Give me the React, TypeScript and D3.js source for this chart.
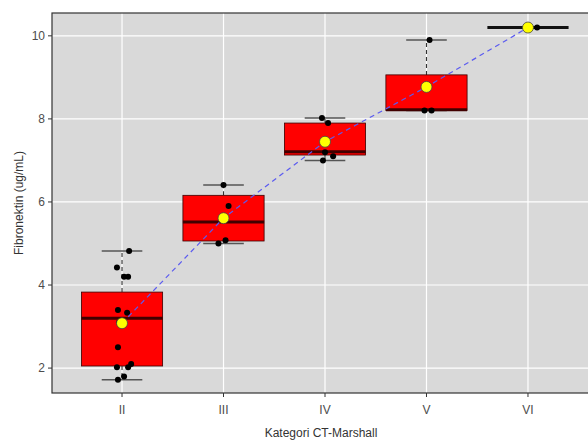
import React from 'react'
import * as d3 from 'd3'

// Kategori CT-Marshall
const categories = ['II', 'III', 'IV', 'V', 'VI']

// box statistics
const whiskerLow = [1.72, 5.0, 7.0, 8.2, 10.2]
const q1 = [2.05, 5.06, 7.13, 8.2, 10.2]
const median = [3.2, 5.52, 7.21, 8.22, 10.2]
const q3 = [3.83, 6.16, 7.9, 9.06, 10.2]
const whiskerHigh = [4.82, 6.41, 8.02, 9.9, 10.2]
const means = [3.08, 5.61, 7.45, 8.77, 10.2]

// jittered observations
const pointCat = ['II', 'II', 'II', 'II', 'II', 'II', 'II', 'II', 'II', 'II', 'II', 'II', 'II',
  'III', 'III', 'III', 'III', 'IV', 'IV', 'IV', 'IV', 'IV', 'V', 'V', 'V', 'VI', 'VI']
const pointVal = [4.82, 4.42, 4.2, 4.2, 3.4, 3.33, 3.1, 2.5, 2.02, 2.02, 2.1, 1.8, 1.72,
  6.41, 5.9, 5.0, 5.08, 8.02, 7.9, 7.2, 7.1, 7.0, 9.9, 8.2, 8.2, 10.2, 10.2]
const pointJitter = [0.07, -0.05, 0.02, 0.06, -0.04, 0.05, -0.03, -0.04, -0.05, 0.06, 0.09, 0.02, -0.04,
  0.0, 0.05, -0.05, 0.02, -0.03, 0.03, 0.0, 0.08, -0.02, 0.03, 0.05, -0.02, 0.09, 0.0]

const yTicks = [2, 4, 6, 8, 10]

const W = 588
const H = 440
const panel = { left: 52, top: 13, right: 598, bottom: 393 }

export default function App() {
  const x = d3
    .scalePoint<string>()
    .domain(categories)
    .range([panel.left, panel.right])
    .padding(0.69)
  const y = d3.scaleLinear().domain([1.4, 10.55]).range([panel.bottom, panel.top])
  const step = x.step()
  const boxW = step * 0.8
  const capW = boxW / 2

  const meanLine = d3
    .line<number>()
    .x((d, i) => x(categories[i]) as number)
    .y((d) => y(d))(means) as string

  const font = '"Liberation Sans", Arial, sans-serif'

  return (
    <svg
      width={W}
      height={H}
      style={{ position: 'absolute', left: 0, top: 0, background: '#fff' }}
      fontFamily={font}
    >
      <defs>
        <clipPath id="panelClip">
          <rect x={panel.left} y={panel.top} width={panel.right - panel.left} height={panel.bottom - panel.top} />
        </clipPath>
      </defs>
      <rect
        x={panel.left}
        y={panel.top}
        width={panel.right - panel.left}
        height={panel.bottom - panel.top}
        fill="#d9d9d9"
      />
      <g clipPath="url(#panelClip)">
        {yTicks.map((t) => (
          <line key={'gy' + t} x1={panel.left} x2={panel.right} y1={y(t)} y2={y(t)} stroke="#fff" strokeWidth={1.2} />
        ))}
        {categories.map((c) => (
          <line key={'gx' + c} x1={x(c)} x2={x(c)} y1={panel.top} y2={panel.bottom} stroke="#fff" strokeWidth={1.2} />
        ))}

        {categories.map((c, i) => {
          const cx = x(c) as number
          return (
            <g key={'box' + c}>
              <line x1={cx} x2={cx} y1={y(q3[i])} y2={y(whiskerHigh[i])} stroke="#333" strokeWidth={1.1} strokeDasharray="4,3" />
              <line x1={cx} x2={cx} y1={y(q1[i])} y2={y(whiskerLow[i])} stroke="#333" strokeWidth={1.1} strokeDasharray="4,3" />
              <line x1={cx - capW / 2} x2={cx + capW / 2} y1={y(whiskerHigh[i])} y2={y(whiskerHigh[i])} stroke="#555" strokeWidth={1.5} />
              <line x1={cx - capW / 2} x2={cx + capW / 2} y1={y(whiskerLow[i])} y2={y(whiskerLow[i])} stroke="#555" strokeWidth={1.5} />
              <rect
                x={cx - boxW / 2}
                y={y(q3[i])}
                width={boxW}
                height={y(q1[i]) - y(q3[i])}
                fill="#ff0000"
                stroke="#3a0000"
                strokeWidth={0.8}
              />
              <line
                x1={cx - boxW / 2}
                x2={cx + boxW / 2}
                y1={y(median[i])}
                y2={y(median[i])}
                stroke={q1[i] === q3[i] ? '#111' : '#420000'}
                strokeWidth={3}
              />
            </g>
          )
        })}

        {pointVal.map((v, i) => (
          <circle
            key={'pt' + i}
            cx={(x(pointCat[i]) as number) + pointJitter[i] * step}
            cy={y(v)}
            r={3}
            fill="#000"
          />
        ))}

        <path d={meanLine} fill="none" stroke="#5b5bf0" strokeWidth={1.2} strokeDasharray="5,4" />

        {means.map((m, i) => (
          <circle key={'m' + i} cx={x(categories[i])} cy={y(m)} r={5.5} fill="#ffff00" stroke="#444" strokeWidth={0.8} />
        ))}
      </g>
      <rect
        x={panel.left}
        y={panel.top}
        width={panel.right - panel.left}
        height={panel.bottom - panel.top}
        fill="none"
        stroke="#333"
        strokeWidth={1.2}
      />

      {/* y axis */}
      {yTicks.map((t) => (
        <g key={'ty' + t}>
          <line x1={panel.left - 4} x2={panel.left} y1={y(t)} y2={y(t)} stroke="#333" />
          <text x={panel.left - 7} y={y(t)} dy="0.35em" textAnchor="end" fontSize={12} fill="#4d4d4d">
            {t}
          </text>
        </g>
      ))}
      {/* x axis */}
      {categories.map((c) => (
        <g key={'tx' + c}>
          <line x1={x(c)} x2={x(c)} y1={panel.bottom} y2={panel.bottom + 4} stroke="#333" />
          <text x={x(c)} y={panel.bottom + 21} textAnchor="middle" fontSize={12} fill="#4d4d4d">
            {c}
          </text>
        </g>
      ))}
      <text x={321} y={437} textAnchor="middle" fontSize={12} fill="#333">
        Kategori CT-Marshall
      </text>
      <text transform={`translate(23, ${(panel.top + panel.bottom) / 2}) rotate(-90)`} textAnchor="middle" fontSize={12} fill="#333">
        Fibronektin (ug/mL)
      </text>
    </svg>
  )
}
